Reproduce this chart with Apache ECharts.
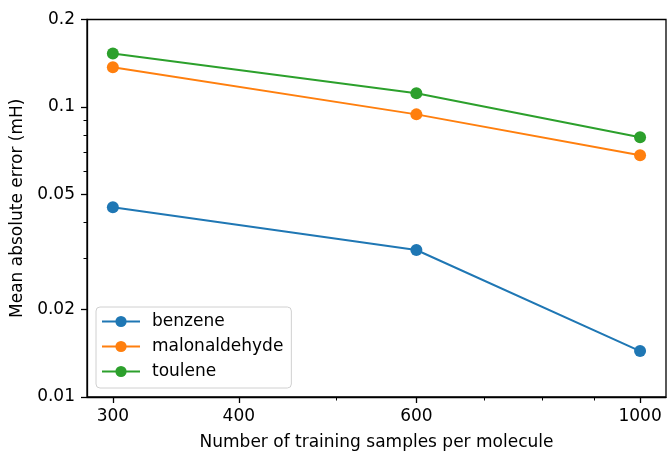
<!DOCTYPE html>
<html>
<head>
<meta charset="utf-8">
<script src="https://cdn.jsdelivr.net/npm/echarts@6/dist/echarts.min.js"></script>
<style>html,body{margin:0;padding:0;background:#fff}#c{width:667px;height:451px}</style>
</head>
<body>
<div id="c"></div>
<script>
const xValues = [300, 600, 1000];
const benzene = [0.0451, 0.0321, 0.0144];
const malonaldehyde = [0.1368, 0.0942, 0.0681];
const toulene = [0.1528, 0.1113, 0.0785];
const seriesNames = ['benzene', 'malonaldehyde', 'toulene'];
const xTicks = [300, 400, 600, 1000];
const xMinorTicks = [500, 700, 800, 900];
const yTicks = [0.01, 0.02, 0.05, 0.1, 0.2];
const yMinorTicks = [0.03, 0.04, 0.06, 0.07, 0.08, 0.09];
const colors = ['#1f77b4', '#ff7f0e', '#2ca02c'];

const FONT = 'DejaVu Sans';
const FS = 17;
const xMin = 282.8, xMax = 1061;
const yMin = 0.01, yMax = 0.2;

function pts(vals) { return xValues.map((x, i) => [x, vals[i]]); }

const chart = echarts.init(document.getElementById('c'), null, {renderer: 'canvas'});
const lineAxis = {lineStyle: {color: '#000', width: 1.3}};
chart.setOption({
  animation: false,
  color: colors,
  textStyle: {fontFamily: FONT},
  grid: {left: 87, top: 19.5, right: 1, bottom: 54, show: true, borderColor: '#000', borderWidth: 1.3,
         containLabel: false, outerBoundsMode: 'none'},
  legend: {
    orient: 'vertical', left: 96, top: 307,
    itemWidth: 38, itemHeight: 14, itemGap: 8,
    padding: [6, 8, 8, 5],
    borderColor: '#d0d0d0', borderWidth: 1, borderRadius: 4,
    backgroundColor: 'rgba(255,255,255,0.8)',
    textStyle: {fontFamily: FONT, fontSize: FS, color: '#000', padding: [0, 0, 0, 7]},
    data: seriesNames
  },
  xAxis: [
    {
      type: 'log', logBase: 10, min: xMin, max: xMax, position: 'bottom',
      name: 'Number of training samples per molecule', nameLocation: 'middle', nameGap: 37,
      nameTextStyle: {fontFamily: FONT, fontSize: FS, color: '#000'},
      axisLine: lineAxis,
      axisTick: {show: true, length: 6, lineStyle: {color: '#000', width: 1.3}, customValues: xTicks},
      axisLabel: {fontFamily: FONT, fontSize: FS, color: '#000', margin: 11, customValues: xTicks, formatter: v => String(Math.round(v))},
      splitLine: {show: false}
    },
    {
      type: 'log', logBase: 10, min: xMin, max: xMax, position: 'bottom', offset: 0,
      axisLine: {show: false},
      axisTick: {show: true, length: 3.5, lineStyle: {color: '#000', width: 1}, customValues: xMinorTicks},
      axisLabel: {show: false, customValues: xMinorTicks},
      splitLine: {show: false}
    }
  ],
  yAxis: [
    {
      type: 'log', logBase: 10, min: yMin, max: yMax, position: 'left',
      name: 'Mean absolute error (mH)', nameLocation: 'middle', nameGap: 56, nameRotate: 90,
      nameTextStyle: {fontFamily: FONT, fontSize: FS, color: '#000'},
      axisLine: lineAxis,
      axisTick: {show: true, length: 6, lineStyle: {color: '#000', width: 1.3}, customValues: yTicks},
      axisLabel: {fontFamily: FONT, fontSize: FS, color: '#000', margin: 12, padding: [3, 0, 0, 0], customValues: yTicks, formatter: v => String(+(+v).toPrecision(2))},
      splitLine: {show: false}
    },
    {
      type: 'log', logBase: 10, min: yMin, max: yMax, position: 'left', offset: 0,
      axisLine: {show: false},
      axisTick: {show: true, length: 3.5, lineStyle: {color: '#000', width: 1}, customValues: yMinorTicks},
      axisLabel: {show: false, customValues: yMinorTicks},
      splitLine: {show: false}
    }
  ],
  series: [benzene, malonaldehyde, toulene].map((vals, i) => ({
    name: seriesNames[i], type: 'line', xAxisIndex: 0, yAxisIndex: 0,
    data: pts(vals), symbol: 'circle', symbolSize: 12,
    lineStyle: {width: 2, color: colors[i]}, itemStyle: {color: colors[i]}
  }))
});
</script>
</body>
</html>
